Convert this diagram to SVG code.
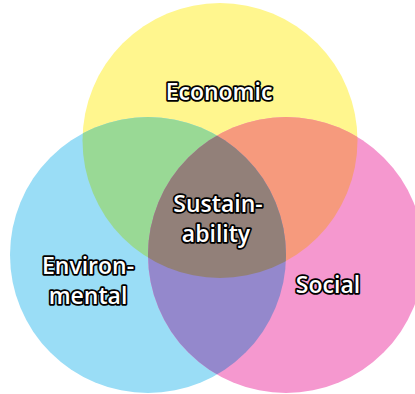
<svg xmlns="http://www.w3.org/2000/svg" width="415" height="394" viewBox="0 0 415 394">
<style>
.lbl{font-family:"Open Sans","Noto Sans","DejaVu Sans",sans-serif;font-size:23px;font-weight:600;fill:#fff;stroke:#000;stroke-width:3.5px;stroke-linejoin:round;paint-order:stroke fill;text-anchor:middle}
</style>
<defs>
<clipPath id="cY"><circle cx="220" cy="140.5" r="137.5"/></clipPath>
<clipPath id="cB"><circle cx="148" cy="255" r="138"/></clipPath>
</defs>
<rect width="415" height="394" fill="#fff"/>
<g id="economic-circle"><circle cx="220" cy="140.5" r="137.5" fill="#FFF68E"/></g>
<g id="environmental-circle"><circle cx="148" cy="255" r="138" fill="#9ADDF6"/></g>
<g id="social-circle"><circle cx="286" cy="255" r="138" fill="#F598CF"/></g>
<g id="overlaps">
<circle cx="148" cy="255" r="138" fill="#99D995" clip-path="url(#cY)"/>
<circle cx="286" cy="255" r="138" fill="#F69A7D" clip-path="url(#cY)"/>
<circle cx="286" cy="255" r="138" fill="#9488CC" clip-path="url(#cB)"/>
<g clip-path="url(#cY)"><circle cx="286" cy="255" r="138" fill="#928079" clip-path="url(#cB)"/></g>
</g>
<g id="labels">
<text class="lbl" x="219" y="100">Economic</text>
<text class="lbl" x="218" y="212">Sustain-</text>
<text class="lbl" x="216" y="242">ability</text>
<text class="lbl" x="88" y="274">Environ-</text>
<text class="lbl" x="88" y="304">mental</text>
<text class="lbl" x="328" y="293">Social</text>
</g>
</svg>
